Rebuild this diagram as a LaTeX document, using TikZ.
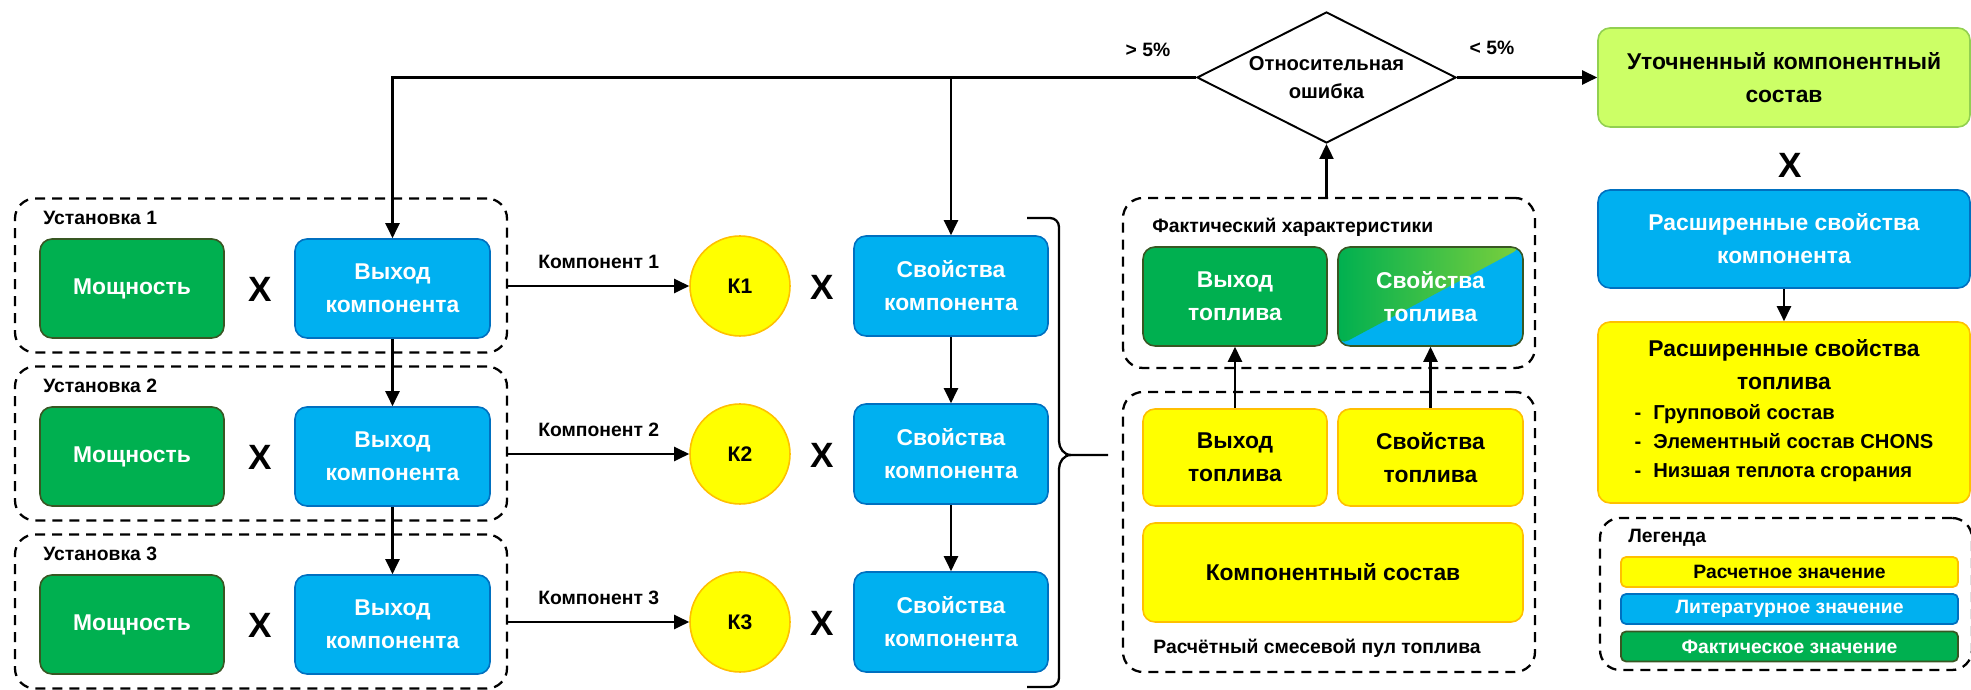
\documentclass[tikz,border=0pt]{standalone}
\usepackage{fontspec}
\setmainfont{Liberation Sans}
\usepackage{xcolor}
\usetikzlibrary{arrows.meta}
\usetikzlibrary{shapes,shapes.geometric}
\pgfdeclarelayer{edgelayer}
\pgfdeclarelayer{nodelayer}
\pgfsetlayers{edgelayer,nodelayer,main}
\definecolor{gfill}{RGB}{0,176,80}
\definecolor{gline}{RGB}{56,87,35}
\definecolor{gmid}{RGB}{125,208,60}
\definecolor{bfill}{RGB}{0,176,240}
\definecolor{bline}{RGB}{0,112,192}
\definecolor{yfill}{RGB}{255,255,0}
\definecolor{yline}{RGB}{255,192,0}
\definecolor{lgfill}{RGB}{204,255,102}
\definecolor{lgline}{RGB}{146,208,80}
\tikzstyle{none}=[inner sep=0mm]
\tikzstyle{box}=[rectangle,rounded corners=0.24cm,line width=0.9pt,minimum width=3.7cm,minimum height=1.98cm,inner sep=0pt,align=center,font=\fontsize{13}{18.8}\selectfont\bfseries]
\tikzstyle{gbox}=[box,fill=gfill,draw=gline,text=white]
\tikzstyle{bbox}=[box,fill=bfill,draw=bline,text=white]
\tikzstyle{ybox}=[box,fill=yfill,draw=yline]
\tikzstyle{lgbox}=[box,fill=lgfill,draw=lgline]
\tikzstyle{mixbox}=[box,fill=bfill,draw=gline,text=white,path picture={
	\shade[left color=gfill,right color=gmid] (path picture bounding box.north west) -- (path picture bounding box.north east) -- (path picture bounding box.south west) -- cycle;}]
\tikzstyle{knode}=[circle,fill=yfill,draw=yline,line width=0.9pt,minimum size=2cm,inner sep=0pt,font=\fontsize{12}{14}\selectfont\bfseries]
\tikzstyle{groupbox}=[rectangle,rounded corners=0.4cm,draw=black,line width=1.3pt,dash pattern=on 0.2cm off 0.14cm]
\tikzstyle{legbar}=[rectangle,rounded corners=0.1cm,line width=1pt,minimum width=6.74cm,minimum height=0.6cm,inner sep=0pt,font=\fontsize{11}{13}\selectfont\bfseries]
\tikzstyle{lbl}=[inner sep=0mm,font=\fontsize{11}{13}\selectfont\bfseries]
\tikzstyle{times}=[inner sep=0mm,font=\fontsize{20}{20}\selectfont\bfseries]
\tikzstyle{decision}=[diamond,aspect=2,draw=black,line width=1.1pt,fill=white,minimum width=5.18cm,minimum height=2.62cm,inner sep=0pt,align=center,font=\fontsize{11.5}{16}\selectfont\bfseries]
\tikzstyle{diredge}=[-{Triangle[length=0.3cm,width=0.28cm]},line width=1.2pt]
\tikzstyle{bracket}=[line width=1.3pt]

\begin{document}
\begin{tikzpicture}
	\useasboundingbox (0,0) rectangle (39.42,13.8);
	\begin{pgfonlayer}{nodelayer}
		% plants
		\node [style=groupbox, minimum width=9.84cm, minimum height=3.08cm] (set1) at (5.22, 8.29) {};
		\node [style=groupbox, minimum width=9.84cm, minimum height=3.08cm] (set2) at (5.22, 4.93) {};
		\node [style=groupbox, minimum width=9.84cm, minimum height=3.08cm] (set3) at (5.22, 1.57) {};
		\node [style=lbl, anchor=west] (setlbl1) at (0.86, 9.44) {Установка 1};
		\node [style=lbl, anchor=west] (setlbl2) at (0.86, 6.08) {Установка 2};
		\node [style=lbl, anchor=west] (setlbl3) at (0.86, 2.72) {Установка 3};
		\node [style=gbox, minimum width=3.68cm] (pow1) at (2.64, 8.03) {Мощность};
		\node [style=gbox, minimum width=3.68cm] (pow2) at (2.64, 4.67) {Мощность};
		\node [style=gbox, minimum width=3.68cm] (pow3) at (2.64, 1.31) {Мощность};
		\node [style=times] (x1) at (5.2, 8.02) {X};
		\node [style=times] (x2) at (5.2, 4.66) {X};
		\node [style=times] (x3) at (5.2, 1.30) {X};
		\node [style=bbox, minimum width=3.9cm] (out1) at (7.85, 8.03) {Выход\\компонента};
		\node [style=bbox, minimum width=3.9cm] (out2) at (7.85, 4.67) {Выход\\компонента};
		\node [style=bbox, minimum width=3.9cm] (out3) at (7.85, 1.31) {Выход\\компонента};
		% components
		\node [style=knode] (k1) at (14.8, 8.08) {К1};
		\node [style=knode] (k2) at (14.8, 4.72) {К2};
		\node [style=knode] (k3) at (14.8, 1.36) {К3};
		\node [style=times] (x4) at (16.44, 8.05) {X};
		\node [style=times] (x5) at (16.44, 4.69) {X};
		\node [style=times] (x6) at (16.44, 1.33) {X};
		\node [style=bbox, minimum width=3.88cm, minimum height=2cm] (prop1) at (19.02, 8.08) {Свойства\\компонента};
		\node [style=bbox, minimum width=3.88cm, minimum height=2cm] (prop2) at (19.02, 4.72) {Свойства\\компонента};
		\node [style=bbox, minimum width=3.88cm, minimum height=2cm] (prop3) at (19.02, 1.36) {Свойства\\компонента};
		% check against the real fuel
		\node [style=decision] (err) at (26.53, 12.25) {Относительная\\ошибка};
		\node [style=lbl] (gt) at (22.96, 12.8) {> 5\%};
		\node [style=lbl] (lt) at (29.84, 12.84) {< 5\%};
		\node [style=groupbox, minimum width=8.24cm, minimum height=3.4cm] (actual) at (26.58, 8.14) {};
		\node [style=lbl, anchor=west] (actlbl) at (23.04, 9.26) {Фактический характеристики};
		\node [style=gbox, minimum width=3.68cm] (actout) at (24.7, 7.87) {Выход\\топлива};
		\node [style=mixbox, minimum width=3.7cm] (actprop) at (28.61, 7.87) {Свойства\\топлива};
		\node [style=groupbox, minimum width=8.24cm, minimum height=5.6cm] (pool) at (26.58, 3.16) {};
		\node [style=ybox, minimum width=3.68cm, minimum height=1.94cm] (fuelout) at (24.7, 4.65) {Выход\\топлива};
		\node [style=ybox, minimum width=3.7cm, minimum height=1.94cm] (fuelprop) at (28.61, 4.65) {Свойства\\топлива};
		\node [style=ybox, minimum width=7.6cm] (comp) at (26.66, 2.35) {Компонентный состав};
		\node [style=lbl, anchor=west] (poollbl) at (23.06, 0.84) {Расчётный смесевой пул топлива};
		% refined result
		\node [style=lgbox, minimum width=7.44cm] (refined) at (35.68, 12.25) {Уточненный компонентный\\состав};
		\node [style=times] (x7) at (35.8, 10.5) {X};
		\node [style=bbox, minimum width=7.44cm, minimum height=1.96cm] (ext) at (35.68, 9.02) {Расширенные свойства\\компонента};
		\node [style=ybox, minimum width=7.44cm, minimum height=3.62cm] (extfuel) at (35.68, 5.55) {Расширенные свойства\\топлива\\[-1.7pt]{\fontsize{11.5}{18.8}\selectfont\def\arraystretch{0.878}\begin{tabular}[t]{@{}l@{}}-\hspace{0.24cm}Групповой состав\\-\hspace{0.24cm}Элементный состав CHONS\\-\hspace{0.24cm}Низшая теплота сгорания\end{tabular}}};
		% legend
		\node [style=groupbox, minimum width=7.44cm, minimum height=3.04cm] (legend) at (35.72, 1.92) {};
		\node [style=lbl, anchor=west] (leglbl) at (32.56, 3.04) {Легенда};
		\node [style=legbar, fill=yfill, draw=yline] (leg1) at (35.79, 2.36) {Расчетное значение};
		\node [style=legbar, fill=bfill, draw=bline, text=white] (leg2) at (35.79, 1.62) {Литературное значение};
		\node [style=legbar, fill=gfill, draw=gline, text=white] (leg3) at (35.79, 0.87) {Фактическое значение};
	\end{pgfonlayer}
	\begin{pgfonlayer}{edgelayer}
		\draw [style=diredge] (err.west) -| (out1.north);
		\draw [style=diredge] (err.west -| prop1.north) to (prop1.north);
		\draw [style=diredge] (err.east) to (refined.west);
		\draw [style=diredge] (out1) to (out2);
		\draw [style=diredge] (out2) to (out3);
		\draw [style=diredge] (prop1) to (prop2);
		\draw [style=diredge] (prop2) to (prop3);
		\draw [style=diredge] (k1 -| set1.east) to node [style=lbl, midway, above=0.32cm] {Компонент 1} (k1);
		\draw [style=diredge] (k2 -| set2.east) to node [style=lbl, midway, above=0.32cm] {Компонент 2} (k2);
		\draw [style=diredge] (k3 -| set3.east) to node [style=lbl, midway, above=0.32cm] {Компонент 3} (k3);
		\draw [style=diredge] (fuelout) to (actout);
		\draw [style=diredge] (fuelprop) to (actprop);
		\draw [style=diredge] (actual.north -| err.south) to (err.south);
		\draw [style=diredge] (ext) to (extfuel);
		% bracket over the component properties
		\draw [style=bracket, rounded corners=0.18cm] (20.54, 9.44) -- (21.18, 9.44) -- (21.18, 4.98);
		\draw [style=bracket] (21.18, 4.98) to [out=-90, in=180] (21.42, 4.7) -- (22.16, 4.7);
		\draw [style=bracket, rounded corners=0.18cm] (20.54, 0.06) -- (21.18, 0.06) -- (21.18, 4.42);
		\draw [style=bracket] (21.18, 4.42) to [out=90, in=180] (21.42, 4.7);
	\end{pgfonlayer}
\end{tikzpicture}
\end{document}
